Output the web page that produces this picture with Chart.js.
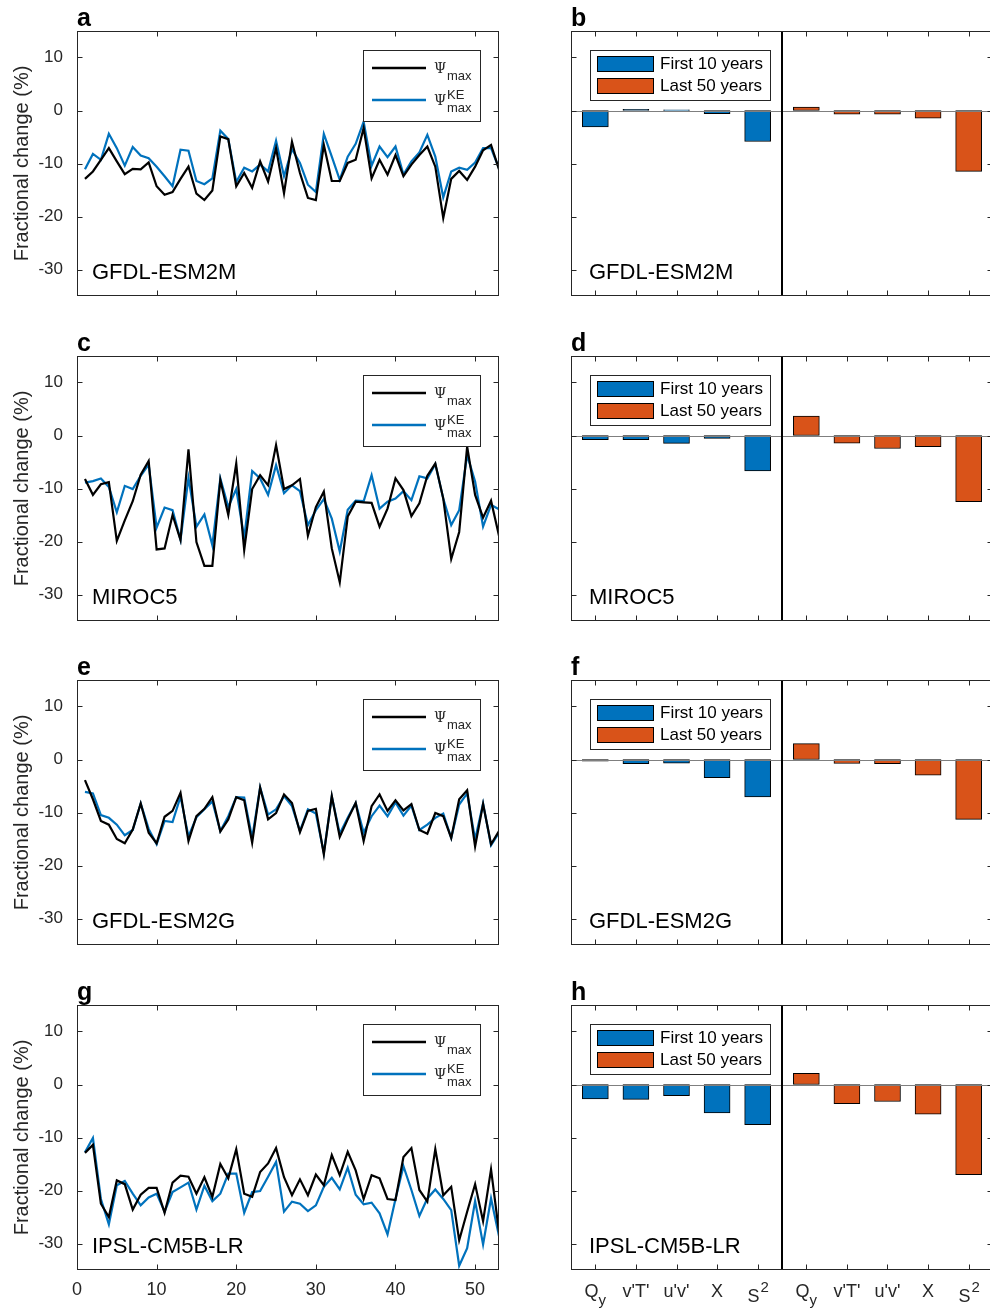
<!DOCTYPE html>
<html>
<head>
<meta charset="utf-8">
<script src="https://cdn.jsdelivr.net/npm/chart.js@4.4.1/dist/chart.umd.min.js"></script>
<style>
  html, body { margin: 0; padding: 0; background: #fff; overflow: hidden; width: 990px; height: 1310px; }
  canvas { position: absolute; }
</style>
</head>
<body>
<script>
// ---- data ----
const years = [1,2,3,4,5,6,7,8,9,10,11,12,13,14,15,16,17,18,19,20,21,22,23,24,25,26,27,
  28,29,30,31,32,33,34,35,36,37,38,39,40,41,42,43,44,45,46,47,48,49,50,51,52,53];
const xTicks = [0, 10, 20, 30, 40, 50];
const yTicks = [-30, -20, -10, 0, 10];

const gfdlEsm2mPsi = [-12.9,-11.5,-9.3,-7.1,-9.6,-12.0,-11.0,-11.1,-9.8,-14.3,-15.9,-15.4,-12.9,-10.6,-15.7,-16.9,-15.1,-4.9,-5.4,-14.3,-11.8,-14.6,-9.6,-13.4,-7.1,-15.6,-5.9,-11.8,-16.5,-16.9,-6.5,-13.3,-13.3,-9.9,-9.3,-3.3,-12.8,-9.3,-12.1,-8.4,-12.4,-10.2,-8.4,-6.8,-10.6,-20.3,-12.9,-11.4,-13.1,-10.6,-7.5,-6.5,-11.1];
const gfdlEsm2mKe = [-11.1,-8.2,-9.3,-4.4,-7.1,-10.4,-6.9,-8.5,-9.0,-10.6,-12.4,-14.3,-7.4,-7.6,-13.3,-13.9,-12.8,-3.8,-5.4,-13.5,-10.8,-11.5,-10.2,-11.5,-5.7,-12.4,-7.3,-9.9,-14.0,-15.4,-4.4,-8.7,-13.1,-8.7,-6.3,-2.1,-10.4,-6.8,-8.8,-6.8,-12.1,-9.6,-7.9,-4.6,-8.7,-16.4,-11.5,-10.8,-11.2,-9.8,-7.1,-7.1,-10.9];
const miroc5Psi = [-8.2,-11.2,-9.2,-8.8,-19.9,-16.0,-12.4,-7.4,-4.8,-21.5,-21.3,-15.0,-19.7,-2.6,-20.1,-24.6,-24.6,-8.4,-15.0,-5.3,-21.6,-10.1,-7.5,-9.4,-1.8,-10.1,-9.4,-8.2,-18.9,-13.5,-10.6,-21.3,-27.7,-15.3,-12.5,-12.6,-12.7,-17.2,-13.8,-8.1,-10.3,-15.2,-12.8,-7.6,-5.3,-11.9,-23.3,-18.2,-2.1,-11.2,-15.5,-12.3,-18.9];
const miroc5Ke = [-8.9,-8.6,-8.1,-9.7,-14.5,-9.5,-10.1,-7.6,-5.5,-17.4,-13.6,-14.1,-19.7,-8.0,-17.2,-14.9,-20.7,-8.1,-13.5,-10.1,-19.3,-6.7,-8.1,-11.2,-5.6,-10.9,-9.4,-10.5,-16.9,-14.1,-12.0,-15.7,-21.9,-14.0,-12.3,-12.4,-7.5,-13.8,-12.5,-11.9,-10.5,-12.2,-7.7,-8.1,-5.4,-11.9,-16.9,-14.1,-3.7,-8.7,-17.2,-13.1,-13.9];
const gfdlEsm2gPsi = [-3.9,-7.5,-11.6,-12.3,-15.0,-15.8,-13.2,-8.3,-13.8,-15.8,-10.8,-9.7,-6.3,-15.4,-10.7,-9.3,-7.1,-13.6,-11.3,-7.1,-7.7,-15.7,-5.3,-11.3,-10.1,-6.6,-8.2,-13.7,-9.7,-9.3,-17.9,-6.9,-14.6,-11.3,-8.2,-15.4,-8.8,-6.6,-9.7,-7.7,-9.6,-8.4,-13.3,-14.0,-10.1,-10.7,-14.8,-7.5,-5.8,-16.4,-8.4,-16.0,-13.5];
const gfdlEsm2gKe = [-6.1,-6.4,-10.5,-11.0,-12.3,-14.3,-13.3,-8.3,-13.1,-16.0,-11.6,-11.8,-7.0,-14.5,-10.9,-9.4,-7.9,-13.5,-10.7,-7.1,-7.2,-14.8,-5.3,-10.4,-9.4,-6.9,-8.8,-13.5,-9.4,-10.2,-17.6,-7.0,-14.0,-11.0,-8.2,-13.8,-10.7,-8.7,-10.7,-8.1,-10.6,-8.7,-13.3,-12.3,-11.0,-10.2,-14.8,-8.5,-6.4,-15.1,-8.3,-16.2,-13.8];
const ipslPsi = [-12.9,-11.4,-22.5,-25.0,-18.1,-18.8,-23.6,-20.8,-19.5,-19.5,-24.2,-18.5,-17.2,-17.4,-20.6,-17.5,-21.2,-15.0,-17.7,-12.2,-20.6,-21.2,-16.5,-14.9,-12.0,-17.5,-20.9,-17.9,-20.9,-17.0,-19.0,-13.3,-17.1,-12.7,-16.2,-21.6,-17.1,-17.7,-21.6,-21.8,-13.7,-12.0,-19.9,-22.1,-12.2,-20.9,-19.3,-29.4,-24.0,-18.8,-25.8,-16.0,-27.8];
const ipslKe = [-12.8,-10.1,-21.6,-26.4,-19.0,-18.2,-20.6,-22.8,-21.3,-20.6,-24.0,-20.3,-19.4,-18.5,-23.6,-19.1,-22.0,-20.6,-16.8,-16.8,-24.2,-20.3,-20.1,-17.4,-14.6,-24.0,-22.1,-22.5,-23.9,-22.8,-19.3,-17.6,-19.8,-15.7,-20.8,-22.6,-22.3,-24.3,-28.3,-21.6,-15.4,-19.9,-24.8,-21.5,-19.8,-21.6,-23.7,-34.2,-30.9,-22.0,-30.2,-21.5,-28.6];

// bar panels: terms, positions on the x axis
const termBase = ["Q", "v'T'", "u'v'", "X", "S"];
const termSub = ["y", "", "", "", ""];
const termSup = ["", "", "", "", "2"];
const posFirst = [1, 2, 3, 4, 5];
const posLast = [6.2, 7.2, 8.2, 9.2, 10.2];
const barTicks = [1, 2, 3, 4, 5, 6.2, 7.2, 8.2, 9.2, 10.2];

const gfdlEsm2mFirst = [-3.1, 0.2, 0.15, -0.6, -5.85];
const gfdlEsm2mLast = [0.65, -0.7, -0.7, -1.45, -11.5];
const miroc5First = [-0.8, -0.8, -1.5, -0.55, -6.7];
const miroc5Last = [3.65, -1.45, -2.45, -2.1, -12.5];
const gfdlEsm2gFirst = [-0.3, -0.8, -0.7, -3.45, -7.05];
const gfdlEsm2gLast = [3.0, -0.75, -0.8, -2.95, -11.3];
const ipslFirst = [-2.7, -2.8, -2.1, -5.35, -7.6];
const ipslLast = [2.1, -3.6, -3.2, -5.6, -17.0];

// ---- styling ----
const FONT = "'Liberation Sans', Arial, Helvetica, sans-serif";
const SERIF = "'DejaVu Serif', 'Liberation Serif', serif";
const TXT = "#262626";
const BLUE = "#0072BD";
const ORANGE = "#D95319";

// canvas tops for the four rows; plot box starts 31px below and is 265px high
const rowTops = [0, 325, 649, 974];
const rowHeights = [325, 324, 325, 336];
const PLOT_TOP = 31, PLOT_H = 265;

function makeCanvas(left, top, w, h) {
    const c = document.createElement("canvas");
    c.width = w;
    c.height = h;
    c.style.left = left + "px";
    c.style.top = top + "px";
    c.style.width = w + "px";
    c.style.height = h + "px";
    document.body.appendChild(c);
    return c;
}

function crisp(v) {
    return Math.round(v) + 0.5;
}

// MATLAB-ish axes box, inward ticks, legends and labels
const matlabAxes = {
    id: "matlabAxes",
    afterDatasetsDraw(chart, args, opts) {
        const { ctx, chartArea: a, scales } = chart;
        ctx.save();

        if (opts.zeroLine) {
            const y0 = crisp(scales.y.getPixelForValue(0));
            ctx.strokeStyle = "#7f7f7f";
            ctx.lineWidth = 1;
            ctx.beginPath();
            ctx.moveTo(a.left, y0);
            ctx.lineTo(a.right, y0);
            ctx.stroke();
        }
        if (opts.divider != null) {
            const xd = Math.round(scales.x.getPixelForValue(opts.divider));
            ctx.strokeStyle = "#000";
            ctx.lineWidth = 2;
            ctx.beginPath();
            ctx.moveTo(xd, a.top);
            ctx.lineTo(xd, a.bottom);
            ctx.stroke();
        }

        // frame
        ctx.strokeStyle = TXT;
        ctx.lineWidth = 1;
        const L = crisp(a.left), R = crisp(a.right - 1), T = crisp(a.top), B = crisp(a.bottom - 1);
        ctx.strokeRect(L, T, R - L, B - T);

        // inward ticks on all sides
        const tl = 5;
        ctx.beginPath();
        scales.x.ticks.forEach((t) => {
            const px = crisp(scales.x.getPixelForValue(t.value));
            ctx.moveTo(px, B); ctx.lineTo(px, B - tl);
            ctx.moveTo(px, T); ctx.lineTo(px, T + tl);
        });
        scales.y.ticks.forEach((t) => {
            const py = crisp(scales.y.getPixelForValue(t.value));
            ctx.moveTo(L, py); ctx.lineTo(L + tl, py);
            ctx.moveTo(R, py); ctx.lineTo(R - tl, py);
        });
        ctx.stroke();

        if (opts.legend === "lines") drawLineLegend(chart);
        if (opts.legend === "bars") drawBarLegend(chart);
        ctx.restore();
    },
    afterDraw(chart, args, opts) {
        const { ctx, chartArea: a } = chart;
        ctx.save();
        ctx.fillStyle = "#000";
        ctx.textAlign = "left";
        ctx.textBaseline = "alphabetic";
        ctx.font = `bold 25px ${FONT}`;
        ctx.fillText(opts.letter, a.left, a.top - 5);

        ctx.fillStyle = "#000";
        ctx.font = `22px ${FONT}`;
        ctx.fillText(opts.model, a.left + opts.modelOffset, a.bottom - 17);

        if (opts.termLabels) drawTermLabels(chart);
        ctx.restore();
    },
};

function drawLineLegend(chart) {
    const { ctx, chartArea: a } = chart;
    const w = 117, h = 71;
    const x0 = Math.round(a.right - 19 - w), y0 = Math.round(a.top + 19);
    ctx.fillStyle = "#fff";
    ctx.fillRect(x0, y0, w, h);
    ctx.strokeStyle = TXT;
    ctx.lineWidth = 1;
    ctx.strokeRect(x0 + 0.5, y0 + 0.5, w, h);

    chart.data.datasets.forEach((ds, i) => {
        const ly = y0 + 18 + i * 32;
        ctx.strokeStyle = ds.borderColor;
        ctx.lineWidth = 2.5;
        ctx.beginPath();
        ctx.moveTo(x0 + 9, ly);
        ctx.lineTo(x0 + 63, ly);
        ctx.stroke();

        ctx.fillStyle = TXT;
        ctx.textAlign = "left";
        ctx.textBaseline = "alphabetic";
        ctx.font = `14px ${SERIF}`;
        ctx.fillText("Ψ", x0 + 71, ly + 5);
        ctx.font = `13px ${FONT}`;
        ctx.fillText("max", x0 + 84, ly + 12);
        if (ds.sup) ctx.fillText(ds.sup, x0 + 84, ly - 1);
    });
}

function drawBarLegend(chart) {
    const { ctx, chartArea: a } = chart;
    const w = 180, h = 50;
    const x0 = Math.round(a.left + 19), y0 = Math.round(a.top + 19);
    ctx.fillStyle = "#fff";
    ctx.fillRect(x0, y0, w, h);
    ctx.strokeStyle = TXT;
    ctx.lineWidth = 1;
    ctx.strokeRect(x0 + 0.5, y0 + 0.5, w, h);

    chart.data.datasets.forEach((ds, i) => {
        const py = y0 + 6 + i * 22;
        ctx.fillStyle = ds.backgroundColor;
        ctx.fillRect(x0 + 7, py, 57, 16);
        ctx.strokeStyle = "#000";
        ctx.strokeRect(x0 + 7.5, py + 0.5, 56, 15);
        ctx.fillStyle = "#000";
        ctx.textAlign = "left";
        ctx.textBaseline = "middle";
        ctx.font = `17px ${FONT}`;
        ctx.fillText(ds.label, x0 + 70, py + 8.5);
    });
}

function drawTermLabels(chart) {
    const { ctx, chartArea: a, scales } = chart;
    ctx.fillStyle = TXT;
    ctx.textAlign = "left";
    ctx.textBaseline = "alphabetic";
    const big = `18px ${FONT}`, small = `15px ${FONT}`;
    [posFirst, posLast].forEach((positions) => {
        positions.forEach((p, i) => {
            const cx = scales.x.getPixelForValue(p);
            ctx.font = big;
            const wb = ctx.measureText(termBase[i]).width;
            const extra = termSub[i] || termSup[i];
            ctx.font = small;
            const ws = extra ? ctx.measureText(extra).width : 0;
            const x0 = cx - (wb + ws) / 2;
            ctx.font = big;
            ctx.fillText(termBase[i], x0, a.bottom + (termSup[i] ? 32 : 27));
            ctx.font = small;
            if (termSub[i]) ctx.fillText(termSub[i], x0 + wb, a.bottom + 35);
            if (termSup[i]) ctx.fillText(termSup[i], x0 + wb + 1, a.bottom + 22);
        });
    });
}

function fixedTicks(list) {
    return (scale) => {
        scale.ticks = list.map((v) => ({ value: v }));
    };
}

function linePanel(row, letter, model, psi, ke) {
    const h = rowHeights[row];
    const canvas = makeCanvas(0, rowTops[row], 510, h);
    const last = row === 3;
    return new Chart(canvas, {
        type: "line",
        data: {
            datasets: [
                {
                    label: "Psi max",
                    data: years.map((x, i) => ({ x: x, y: psi[i] })),
                    borderColor: "#000000",
                    borderWidth: 2.2,
                    pointRadius: 0,
                    tension: 0,
                },
                {
                    label: "Psi KE max",
                    sup: "KE",
                    data: years.map((x, i) => ({ x: x, y: ke[i] })),
                    borderColor: BLUE,
                    borderWidth: 2.2,
                    pointRadius: 0,
                    tension: 0,
                },
            ],
        },
        options: {
            responsive: false,
            animation: false,
            events: [],
            layout: { padding: { top: PLOT_TOP, right: 11, left: 0, bottom: 0 } },
            scales: {
                x: {
                    type: "linear",
                    min: 0,
                    max: 53,
                    afterBuildTicks: fixedTicks(xTicks),
                    afterFit: (s) => { s.height = h - PLOT_TOP - PLOT_H; },
                    grid: { display: false, drawTicks: false },
                    border: { display: false },
                    ticks: {
                        display: last,
                        autoSkip: false,
                        maxRotation: 0,
                        padding: 9,
                        color: TXT,
                        font: { family: FONT, size: 18 },
                    },
                },
                y: {
                    min: -35,
                    max: 15,
                    afterBuildTicks: fixedTicks(yTicks),
                    afterFit: (s) => { s.width = 77; },
                    grid: { display: false, drawTicks: false },
                    border: { display: false },
                    ticks: {
                        padding: 14,
                        color: TXT,
                        font: { family: FONT, size: 17 },
                    },
                    title: {
                        display: true,
                        text: "Fractional change (%)",
                        color: TXT,
                        font: { family: FONT, size: 20 },
                        padding: { top: 10, bottom: 0 },
                    },
                },
            },
            plugins: {
                legend: { display: false },
                tooltip: { enabled: false },
                matlabAxes: { letter: letter, model: model, modelOffset: 15, legend: "lines" },
            },
        },
        plugins: [matlabAxes],
    });
}

function barPanel(row, letter, model, first, lastVals) {
    const h = rowHeights[row];
    const canvas = makeCanvas(520, rowTops[row], 490, h);
    const bottomRow = row === 3;
    const barStyle = {
        borderColor: "#000",
        borderWidth: 1,
        borderSkipped: false,
        barThickness: 26,
        grouped: false,
    };
    return new Chart(canvas, {
        type: "bar",
        data: {
            datasets: [
                Object.assign({
                    label: "First 10 years",
                    data: posFirst.map((x, i) => ({ x: x, y: first[i] })),
                    backgroundColor: BLUE,
                }, barStyle),
                Object.assign({
                    label: "Last 50 years",
                    data: posLast.map((x, i) => ({ x: x, y: lastVals[i] })),
                    backgroundColor: ORANGE,
                }, barStyle),
            ],
        },
        options: {
            responsive: false,
            animation: false,
            events: [],
            layout: { padding: { top: PLOT_TOP, right: 17, left: 0, bottom: 0 } },
            scales: {
                x: {
                    type: "linear",
                    min: 0.4,
                    max: 10.8,
                    offset: false,
                    afterBuildTicks: fixedTicks(barTicks),
                    afterFit: (s) => { s.height = h - PLOT_TOP - PLOT_H; },
                    grid: { display: false, drawTicks: false },
                    border: { display: false },
                    ticks: { display: false },
                },
                y: {
                    min: -35,
                    max: 15,
                    afterBuildTicks: fixedTicks(yTicks),
                    afterFit: (s) => { s.width = 51; },
                    grid: { display: false, drawTicks: false },
                    border: { display: false },
                    ticks: { display: false },
                },
            },
            plugins: {
                legend: { display: false },
                tooltip: { enabled: false },
                matlabAxes: {
                    letter: letter,
                    model: model,
                    modelOffset: 18,
                    legend: "bars",
                    zeroLine: true,
                    divider: 5.6,
                    termLabels: bottomRow,
                },
            },
        },
        plugins: [matlabAxes],
    });
}

linePanel(0, "a", "GFDL-ESM2M", gfdlEsm2mPsi, gfdlEsm2mKe);
barPanel(0, "b", "GFDL-ESM2M", gfdlEsm2mFirst, gfdlEsm2mLast);
linePanel(1, "c", "MIROC5", miroc5Psi, miroc5Ke);
barPanel(1, "d", "MIROC5", miroc5First, miroc5Last);
linePanel(2, "e", "GFDL-ESM2G", gfdlEsm2gPsi, gfdlEsm2gKe);
barPanel(2, "f", "GFDL-ESM2G", gfdlEsm2gFirst, gfdlEsm2gLast);
linePanel(3, "g", "IPSL-CM5B-LR", ipslPsi, ipslKe);
barPanel(3, "h", "IPSL-CM5B-LR", ipslFirst, ipslLast);
</script>
</body>
</html>
